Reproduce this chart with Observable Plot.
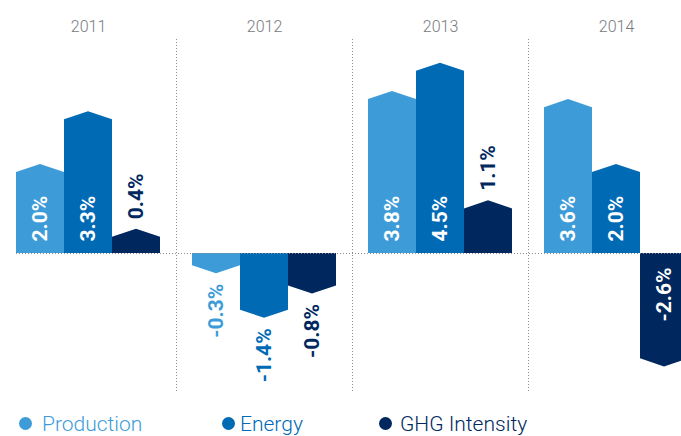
<!DOCTYPE html>
<html><head><meta charset="utf-8">
<script src="https://cdn.jsdelivr.net/npm/d3@7"></script>
<script src="https://cdn.jsdelivr.net/npm/@observablehq/plot@0.6"></script>
<style>
body{margin:0;background:#fff;font-family:Roboto,sans-serif;}
#chart svg{display:block;}
#legend{position:relative;height:31px;width:681px;}
.dot{position:absolute;width:13px;height:13px;border-radius:50%;top:12px;}
.lab{position:absolute;top:9px;font-weight:300;font-size:21px;line-height:21px;white-space:nowrap;}
</style></head><body><div id="chart"></div><div id="legend"></div>
<script>
const years = ["2011", "2012", "2013", "2014"];
const series = ["Production", "Energy", "GHG Intensity"];
const production = [2.0, -0.3, 3.8, 3.6];
const energy = [3.3, -1.4, 4.5, 2.0];
const ghg = [0.4, -0.8, 1.1, -2.6];
const colors = ["#3d9cd8", "#006ab5", "#00285e"];

const valuesBySeries = [production, energy, ghg];
const stride = 11 / 3;   // group spacing in bar widths
const tip = 0.2;         // chevron height in value units

const bars = [];
years.forEach((yr, g) => {
  series.forEach((s, i) => {
    const v = valuesBySeries[i][g];
    const left = g * stride + i;
    bars.push({year: yr, series: s, value: v, left, center: left + 0.5, right: left + 1, sign: v >= 0 ? 1 : -1});
  });
});
const poly = bars.flatMap(b => [
  {key: b.year + b.series, series: b.series, x: b.left, y: b.value},
  {key: b.year + b.series, series: b.series, x: b.center, y: b.value + b.sign * tip},
  {key: b.year + b.series, series: b.series, x: b.right, y: b.value}
]);
const fmt = v => v.toFixed(1) + "%";
const inside = b => Math.abs(b.value) > 1.5;
const colorOf = s => colors[series.indexOf(s)];

const groupCenters = years.map((yr, g) => ({year: yr, x: g * stride + 1.5}));
const separators = years.slice(1).map((yr, g) => (g + 1) * stride - 1 / 3);

const labelFont = {fontSize: 21, fontWeight: "bold", rotate: -90, lineAnchor: "middle"};

const chart = Plot.plot({
  width: 681,
  height: 405,
  marginLeft: 16,
  marginRight: 0,
  marginTop: 39,
  marginBottom: 13,
  style: {fontFamily: "Roboto, sans-serif", overflow: "hidden", background: "#fff"},
  x: {domain: [0, 665 / 48], axis: null},
  y: {domain: [-3.432, 5.284], axis: null},
  color: {domain: series, range: colors},
  marks: [
    Plot.ruleX(separators, {stroke: "#8a8f94", strokeWidth: 1, strokeDasharray: "1,2"}),
    Plot.areaY(poly, {x: "x", y1: 0, y2: "y", z: "key", fill: "series", curve: "linear"}),
    Plot.ruleY([0], {stroke: "#8a8f94", strokeWidth: 1, strokeDasharray: "1,2"}),
    Plot.text(groupCenters, {x: "x", text: "year", frameAnchor: "top", dy: -19, fill: "#767b80", fontSize: 16, fontWeight: 300}),
    // positive, inside
    Plot.text(bars.filter(b => b.sign > 0 && inside(b)), {x: "center", y: 0, text: d => fmt(d.value), fill: "white", textAnchor: "start", dy: -12, ...labelFont}),
    // positive, outside
    Plot.text(bars.filter(b => b.sign > 0 && !inside(b)), {x: "center", y: d => d.value + tip, text: d => fmt(d.value), fill: d => colorOf(d.series), textAnchor: "start", dy: -10, ...labelFont}),
    // negative, inside
    Plot.text(bars.filter(b => b.sign < 0 && inside(b)), {x: "center", y: 0, text: d => fmt(d.value), fill: "white", textAnchor: "end", dy: 14, ...labelFont}),
    // negative, outside
    Plot.text(bars.filter(b => b.sign < 0 && !inside(b)), {x: "center", y: d => d.value - tip, text: d => fmt(d.value), fill: d => colorOf(d.series), textAnchor: "end", dy: 10, ...labelFont})
  ]
});
document.getElementById("chart").appendChild(chart);

const legend = document.getElementById("legend");
const dotX = [18.5, 221.5, 379];
const textX = [42, 240, 400];
series.forEach((s, i) => {
  const d = document.createElement("div");
  d.className = "dot"; d.style.left = dotX[i] + "px"; d.style.background = colors[i];
  legend.appendChild(d);
  const t = document.createElement("div");
  t.className = "lab"; t.style.left = textX[i] + "px"; t.style.color = colors[i];
  t.textContent = s;
  legend.appendChild(t);
});
</script></body></html>
